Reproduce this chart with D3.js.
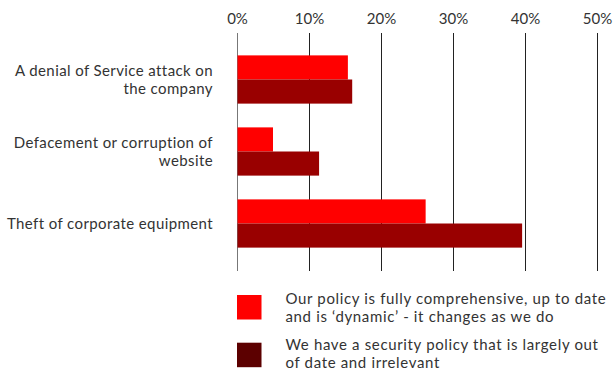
<!DOCTYPE html>
<html>
<head>
<meta charset="utf-8">
<script src="https://cdn.jsdelivr.net/npm/d3@7"></script>
<style>
  html, body { margin: 0; padding: 0; background: #fff; }
  svg text { font-family: "Lato", "DejaVu Sans", sans-serif; fill: #333; }
</style>
</head>
<body>
<svg id="chart" width="614" height="372"></svg>
<script>
// Share of respondents experiencing each incident, by state of security policy
const categories = [
  ["A denial of Service attack on", "the company"],
  ["Defacement or corruption of", "website"],
  ["Theft of corporate equipment"]
];
const seriesNames = [
  ["Our policy is fully comprehensive, up to date", "and is \u2018dynamic\u2019 - it changes as we do"],
  ["We have a security policy that is largely out", "of date and irrelevant"]
];
const dynamicPolicy = [15.4, 5.0, 26.2];
const outdatedPolicy = [16.0, 11.4, 39.6];
const tickValues = [0, 10, 20, 30, 40, 50];

const barColors = ["#ff0000", "#990000"];
const legendColors = ["#ff0000", "#5c0000"];

const svg = d3.select("#chart");
const lineGap = 18;

const x = d3.scaleLinear().domain([0, 50]).range([237, 597]);
const y = d3.scaleBand().domain(d3.range(categories.length))
  .range([43.5, 259.5]).paddingInner(0.33).paddingOuter(0.165);
const ySeries = d3.scaleBand().domain([0, 1]).range([0, y.bandwidth()]);

// vertical gridlines / ticks
const axis = d3.axisTop(x).tickValues(tickValues)
  .tickFormat(d => d + "%").tickSize(-(271 - 33)).tickPadding(9);
const gAxis = svg.append("g").attr("transform", "translate(0,33)").call(axis);
gAxis.select(".domain").remove();
gAxis.selectAll(".tick line").attr("stroke", "#222").attr("stroke-width", 1);
gAxis.selectAll(".tick text").attr("font-size", 15).attr("fill", "#3a3a3a")
  .style("font-family", "Lato, 'DejaVu Sans', sans-serif");
gAxis.selectAll(".tick").filter(d => d === 0).select("line").attr("stroke", "#777");

// bars
const series = [dynamicPolicy, outdatedPolicy];
series.forEach((vals, s) => {
  svg.append("g").selectAll("rect").data(vals).join("rect")
    .attr("x", x(0) + 0.5)
    .attr("y", (d, i) => y(i) + ySeries(s))
    .attr("width", d => x(d) - x(0) - 0.5)
    .attr("height", ySeries.bandwidth())
    .attr("fill", barColors[s]);
});

// category labels
const labels = svg.append("g").selectAll("text").data(categories).join("text")
  .attr("text-anchor", "end")
  .attr("font-size", 15)
  .attr("letter-spacing", "0.4px")
  .attr("y", (d, i) => y(i) + y.bandwidth() / 2);
labels.each(function(lines) {
  const t = d3.select(this);
  const n = lines.length;
  lines.forEach((line, k) => {
    t.append("tspan").attr("x", 213)
      .attr("dy", k === 0 ? ((-(n - 1) * lineGap / 2) + 5.5) + "px" : lineGap + "px")
      .text(line);
  });
});

// legend
const legendTop = [295, 342.7];
const legendBaseline = [304, 350];
const legend = svg.append("g").selectAll("g").data(seriesNames).join("g")
  .attr("transform", (d, i) => `translate(237,${legendTop[i]})`);
legend.append("rect").attr("width", 24.5).attr("height", 24.5)
  .attr("fill", (d, i) => legendColors[i]);
legend.append("text").attr("font-size", 15).attr("letter-spacing", "0.65px")
  .each(function(lines, i) {
    d3.select(this).selectAll("tspan").data(lines).join("tspan")
      .attr("x", 48.5)
      .attr("y", (d, k) => legendBaseline[i] - legendTop[i] + k * lineGap)
      .text(d => d);
  });
</script>
</body>
</html>
